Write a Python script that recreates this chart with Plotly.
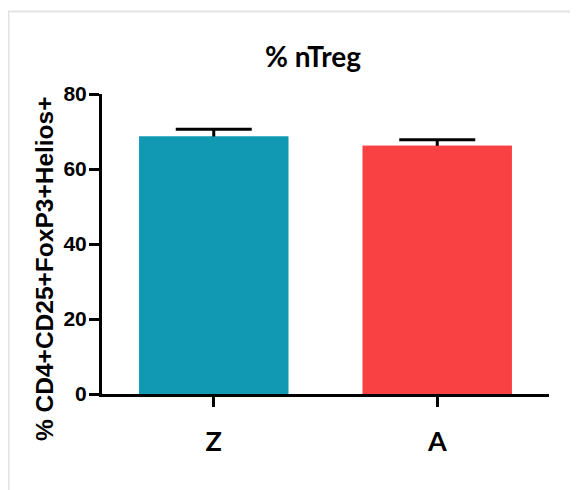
import plotly.graph_objects as go

categories = ["Z", "A"]
means = [68.7, 66.2]
sem = [1.9, 1.6]
colors = ["#1199b4", "#f94143"]
y_ticks = [0, 20, 40, 60, 80]
title_text = "% nTreg"
y_title = "% CD4+CD25+FoxP3+Helios+"

W, H = 578, 490
OFF = 8  # page body margin
L, T = 94, 86
pw, ph = 447, 300
R, B = W - L - pw, H - T - ph

def px_x(xw):
    return (xw - OFF - L) / pw

def px_y(yw):
    return (T + ph - (yw - OFF)) / ph

fig = go.Figure()
fig.add_trace(go.Bar(
    x=categories, y=means, width=0.667,
    marker=dict(color=colors, line=dict(width=0)),
    error_y=dict(type="data", array=sem, symmetric=True,
                 color="black", thickness=3, width=38),
    yaxis="y", showlegend=False, hoverinfo="skip"))
fig.add_trace(go.Bar(
    x=categories, y=means, width=0.667,
    marker=dict(color=colors, line=dict(width=0)),
    yaxis="y2", showlegend=False))

fig.update_layout(
    width=W, height=H,
    margin=dict(l=L, r=R, t=T, b=B),
    paper_bgcolor="white", plot_bgcolor="white",
    xaxis=dict(
        type="category", range=[-0.5, 1.5],
        showline=True, linecolor="black", linewidth=3,
        ticks="outside", ticklen=10, tickwidth=3, tickcolor="black",
        showgrid=False, zeroline=False,
        tickfont=dict(family="Lato", size=27, color="black", weight="bold"),
        ticklabelstandoff=12,
    ),
    yaxis=dict(
        range=[0, 80], tickvals=y_ticks,
        showline=True, linecolor="black", linewidth=3,
        ticks="outside", ticklen=10, tickwidth=3, tickcolor="black",
        showgrid=False, zeroline=False,
        tickfont=dict(family="Liberation Sans", size=21, color="black", weight="bold"),
        ticklabelstandoff=-2,
    ),
    yaxis2=dict(range=[0, 80], overlaying="y", visible=False),
    annotations=[
        dict(text=title_text, xref="paper", yref="paper",
             x=px_x(312.5), y=px_y(56), xanchor="center", yanchor="middle",
             showarrow=False,
             font=dict(family="Lato", size=28, color="black", weight="bold")),
        dict(text=y_title, xref="paper", yref="paper",
             x=px_x(44), y=px_y(269), xanchor="center", yanchor="middle",
             textangle=-90, showarrow=False,
             font=dict(family="Liberation Sans", size=24.5, color="black", weight="bold")),
    ],
    shapes=[
        dict(type="rect", xref="paper", yref="paper",
             x0=px_x(8.5), x1=px_x(W + 30), y0=px_y(H + 30), y1=px_y(11.5),
             line=dict(color="#e3e3e3", width=2), fillcolor="rgba(0,0,0,0)",
             layer="below"),
    ],
)

fig.write_html("out.html")
